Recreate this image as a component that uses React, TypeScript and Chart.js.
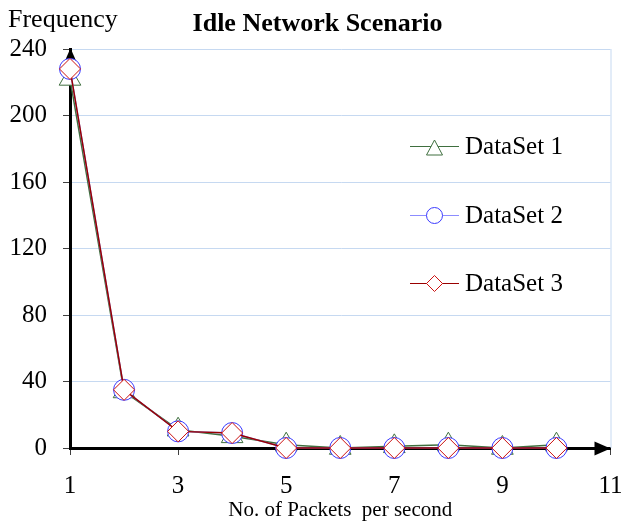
import React, { useEffect, useRef } from 'react';
import { Chart, registerables } from 'chart.js';

Chart.register(...registerables);

// ---- data ----
const xValues = [1, 2, 3, 4, 5, 6, 7, 8, 9, 10];
const dataSet1 = [222, 34, 11, 7, 2, 0, 1, 2, 0, 2];
const dataSet2 = [228, 35, 10, 9, 0, 0, 0, 0, 0, 0];
const dataSet3 = [228, 35, 10, 9, 0, 0, 0, 0, 0, 0];
const seriesNames = ['DataSet 1', 'DataSet 2', 'DataSet 3'];
const xRange = [1, 11];
const xStep = 2;
const yRange = [0, 240];
const yStep = 40;
const chartTitle = 'Idle Network Scenario';
const yAxisTitle = 'Frequency';
const xAxisTitle = 'No. of Packets  per second';

// ---- styles ----
const FAMILY = '"Liberation Serif", "Times New Roman", Times, serif';
const GRID = '#c6d9f1';
const lineColors = ['#3f6f3f', '#8c8cff', '#990000'];
const markerColors = ['#3f6f3f', '#3a3aff', '#cc1111'];

const decorPlugin = {
  id: 'decor',
  beforeDatasetsDraw(chart: any) {
    const { ctx, chartArea: a } = chart;
    ctx.save();
    // right frame line
    ctx.strokeStyle = GRID;
    ctx.lineWidth = 1;
    ctx.beginPath();
    ctx.moveTo(a.right + 0.5, a.top);
    ctx.lineTo(a.right + 0.5, a.bottom);
    ctx.stroke();
    // arrows
    ctx.fillStyle = '#000';
    const yAxisX = Math.round(a.left) + 0.5;
    ctx.beginPath();
    ctx.moveTo(yAxisX, a.top - 1);
    ctx.lineTo(yAxisX - 6, a.top + 13);
    ctx.lineTo(yAxisX + 6, a.top + 13);
    ctx.closePath();
    ctx.fill();
    const xAxisY = Math.round(a.bottom) + 0.5;
    ctx.beginPath();
    ctx.moveTo(a.right, xAxisY);
    ctx.lineTo(a.right - 16, xAxisY - 7);
    ctx.lineTo(a.right - 16, xAxisY + 7);
    ctx.closePath();
    ctx.fill();
    ctx.restore();
  },
  afterDatasetsDraw(chart: any) {
    const { ctx } = chart;
    ctx.save();
    // legend
    const x0 = 410, x1 = 459, tx = 465;
    const rows = [146, 215, 283];
    const cx = (x0 + x1) / 2;
    rows.forEach((y, i) => {
      ctx.strokeStyle = lineColors[i];
      ctx.lineWidth = 1;
      ctx.beginPath();
      ctx.moveTo(x0, y + 0.5);
      ctx.lineTo(x1, y + 0.5);
      ctx.stroke();
      ctx.beginPath();
      if (i === 0) {
        ctx.moveTo(cx, y - 6);
        ctx.lineTo(cx + 8, y + 9);
        ctx.lineTo(cx - 8, y + 9);
        ctx.closePath();
      } else if (i === 1) {
        ctx.arc(cx, y + 0.5, 8, 0, Math.PI * 2);
      } else {
        ctx.moveTo(cx, y - 7.5);
        ctx.lineTo(cx + 8, y + 0.5);
        ctx.lineTo(cx, y + 8.5);
        ctx.lineTo(cx - 8, y + 0.5);
        ctx.closePath();
      }
      ctx.fillStyle = '#fff';
      ctx.fill();
      ctx.strokeStyle = markerColors[i];
      ctx.stroke();
      ctx.fillStyle = '#000';
      ctx.font = `25px ${FAMILY}`;
      ctx.textAlign = 'left';
      ctx.textBaseline = 'middle';
      ctx.fillText(seriesNames[i], tx, y + 1);
    });
    ctx.restore();
  },
  afterDraw(chart: any) {
    const { ctx } = chart;
    ctx.save();
    ctx.fillStyle = '#000';
    ctx.textBaseline = 'alphabetic';
    ctx.font = `bold 26px ${FAMILY}`;
    ctx.textAlign = 'center';
    ctx.fillText(chartTitle, 317.5, 31);
    ctx.font = `26px ${FAMILY}`;
    ctx.textAlign = 'left';
    ctx.fillText(yAxisTitle, 8, 27);
    ctx.restore();
  },
};

export default function App() {
  const ref = useRef<HTMLCanvasElement | null>(null);

  useEffect(() => {
    const canvas = ref.current;
    if (!canvas) return;
    const series = [dataSet1, dataSet2, dataSet3];
    const styles = ['triangle', 'circle', 'rectRot'];
    const radii = [12.5, 10.5, 10.5];
    const orders = [3, 2, 1];
    const chart = new Chart(canvas, {
      type: 'line',
      data: {
        datasets: series.map((vals, i) => ({
          label: seriesNames[i],
          data: xValues.map((x, j) => ({ x, y: vals[j] })),
          borderColor: lineColors[i],
          borderWidth: 1.5,
          pointStyle: styles[i],
          pointRadius: radii[i],
          pointBorderColor: markerColors[i],
          pointBackgroundColor: '#ffffff',
          pointBorderWidth: 1,
          tension: 0,
          order: orders[i],
          clip: false,
        })),
      },
      options: {
        animation: false,
        responsive: false,
        devicePixelRatio: 1,
        events: [],
        layout: { padding: { top: 49, right: 11, bottom: 0, left: 0 } },
        plugins: {
          legend: { display: false },
          title: { display: false },
          tooltip: { enabled: false },
        },
        scales: {
          x: {
            type: 'linear',
            min: xRange[0],
            max: xRange[1],
            ticks: {
              stepSize: xStep,
              font: { family: FAMILY, size: 25 },
              color: '#000',
              padding: 16,
              maxRotation: 0,
              autoSkip: false,
            },
            grid: {
              drawOnChartArea: false,
              drawTicks: true,
              tickLength: 7,
              tickColor: '#404040',
            },
            border: { display: true, color: '#000', width: 3 },
            title: {
              display: true,
              text: xAxisTitle,
              font: { family: FAMILY, size: 21 },
              color: '#000',
              padding: { top: 0, bottom: 0 },
            },
            afterFit(s: any) {
              s.height = 75;
              s.paddingLeft = 0;
              s.paddingRight = 0;
            },
          },
          y: {
            type: 'linear',
            min: yRange[0],
            max: yRange[1],
            ticks: {
              stepSize: yStep,
              font: { family: FAMILY, size: 25 },
              color: '#000',
              padding: 16,
            },
            grid: {
              color: (c: any) => (c.tick && c.tick.value === 0 ? 'rgba(0,0,0,0)' : GRID),
              lineWidth: 1,
              tickLength: 7,
              tickColor: '#404040',
            },
            border: { display: true, color: '#000', width: 3 },
            afterFit(s: any) {
              s.width = 70;
              s.paddingTop = 0;
              s.paddingBottom = 0;
            },
          },
        },
      } as any,
      plugins: [decorPlugin],
    });
    return () => chart.destroy();
  }, []);

  return (
    <div style={{ position: 'fixed', left: 0, top: 0, width: 624, height: 523, background: '#fff' }}>
      <canvas ref={ref} width={624} height={523} style={{ display: 'block' }} />
    </div>
  );
}
